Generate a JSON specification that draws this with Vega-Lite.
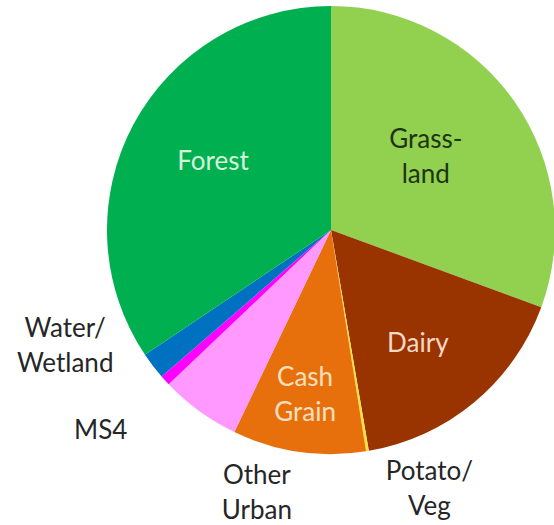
{
  "$schema": "https://vega.github.io/schema/vega-lite/v6.json",
  "width": 446,
  "height": 450,
  "autosize": {"type": "none"},
  "padding": {"left": 108, "top": 5, "right": 0, "bottom": 70},
  "background": "white",
  "config": {"view": {"stroke": null}, "text": {"font": "Lato", "fontSize": 26, "lineHeight": 35, "lineBreak": "\n"}},
  "data": {"values": [
    {"category": "Grassland", "label": "Grass-\nland", "share": 30.6, "ord": 1},
    {"category": "Dairy", "label": "Dairy", "share": 16.7, "ord": 2},
    {"category": "Potato/Veg", "label": "Potato/\nVeg", "share": 0.2, "ord": 3},
    {"category": "Cash Grain", "label": "Cash\nGrain", "share": 9.6, "ord": 4},
    {"category": "Other Urban", "label": "Other\nUrban", "share": 5.8, "ord": 5},
    {"category": "MS4", "label": "MS4", "share": 0.75, "ord": 6},
    {"category": "Water/Wetland", "label": "Water/\nWetland", "share": 1.95, "ord": 7},
    {"category": "Forest", "label": "Forest", "share": 34.4, "ord": 8}
  ]},
  "encoding": {
    "theta": {"field": "share", "type": "quantitative", "stack": true},
    "order": {"field": "ord", "type": "quantitative"}
  },
  "layer": [
    {
      "mark": {"type": "arc", "outerRadius": 224},
      "encoding": {
        "color": {
          "field": "category", "type": "nominal", "legend": null,
          "scale": {
            "domain": ["Grassland", "Dairy", "Potato/Veg", "Cash Grain", "Other Urban", "MS4", "Water/Wetland", "Forest"],
            "range": ["#92D050", "#993300", "#F7E43A", "#E8700C", "#FF99FF", "#FF00FF", "#0070C0", "#00B050"]
          }
        }
      }
    },
    {
      "mark": {"type": "text", "radius": 136, "dx": 2, "dy": -4, "color": "#D4F5D8"},
      "encoding": {"text": {"condition": {"test": "datum.category == 'Forest'", "field": "label"}, "value": ""}}
    },
    {
      "mark": {"type": "text", "radius": 118, "dx": -2, "dy": -22, "color": "#1E3412"},
      "encoding": {"text": {"condition": {"test": "datum.category == 'Grassland'", "field": "label"}, "value": ""}}
    },
    {
      "mark": {"type": "text", "radius": 142, "dx": -4, "dy": 5, "color": "#F6D9C4"},
      "encoding": {"text": {"condition": {"test": "datum.category == 'Dairy'", "field": "label"}, "value": ""}}
    },
    {
      "mark": {"type": "text", "radius": 166, "dx": -2, "dy": -16, "color": "#FBE0C0"},
      "encoding": {"text": {"condition": {"test": "datum.category == 'Cash Grain'", "field": "label"}, "value": ""}}
    },
    {
      "mark": {"type": "text", "radius": 230, "dx": -83, "dy": -41, "color": "#262626"},
      "encoding": {"text": {"condition": {"test": "datum.category == 'Water/Wetland'", "field": "label"}, "value": ""}}
    },
    {
      "mark": {"type": "text", "radius": 230, "dx": -60, "dy": 46, "color": "#262626"},
      "encoding": {"text": {"condition": {"test": "datum.category == 'MS4'", "field": "label"}, "value": ""}}
    },
    {
      "mark": {"type": "text", "radius": 230, "dx": 61, "dy": 60, "color": "#262626"},
      "encoding": {"text": {"condition": {"test": "datum.category == 'Other Urban'", "field": "label"}, "value": ""}}
    },
    {
      "mark": {"type": "text", "radius": 230, "dx": 61, "dy": 15, "color": "#262626"},
      "encoding": {"text": {"condition": {"test": "datum.category == 'Potato/Veg'", "field": "label"}, "value": ""}}
    }
  ]
}
